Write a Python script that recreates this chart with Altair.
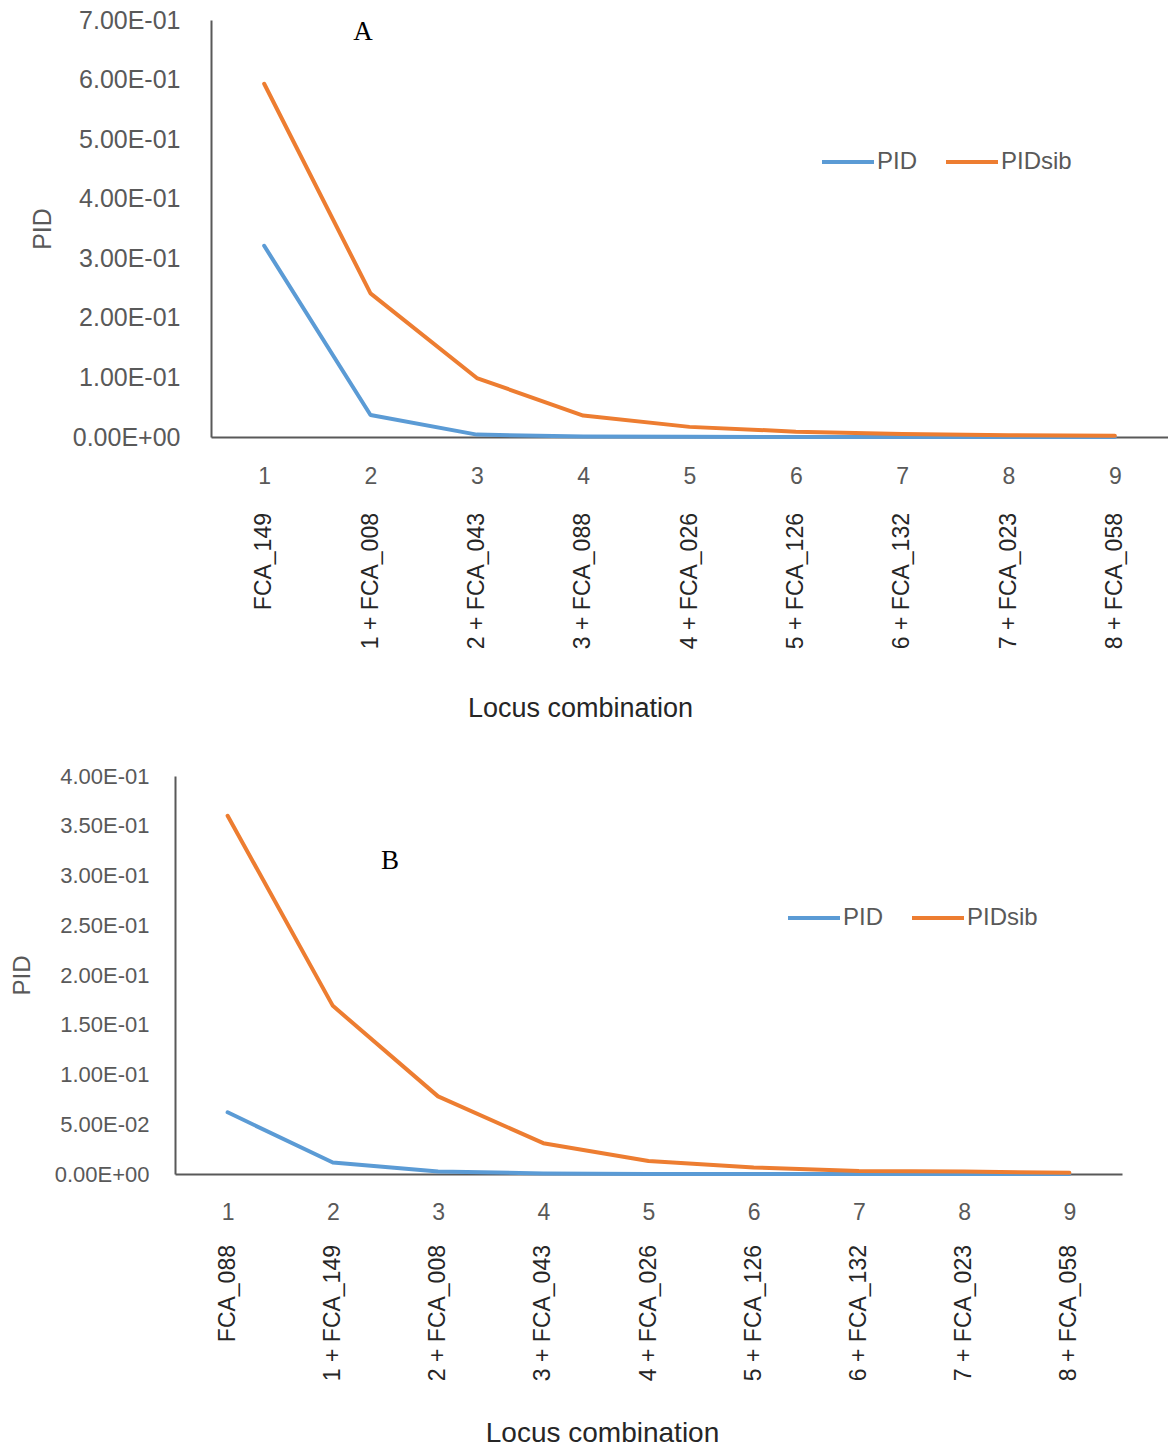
import altair as alt
import pandas as pd

# Number of loci combined at each step
steps = [1, 2, 3, 4, 5, 6, 7, 8, 9]

# Panel A: cumulative locus combinations and probabilities of identity
a_loci = ["FCA_149", "1 + FCA_008", "2 + FCA_043", "3 + FCA_088", "4 + FCA_026",
          "5 + FCA_126", "6 + FCA_132", "7 + FCA_023", "8 + FCA_058"]
a_pid = [0.321, 0.037, 0.004, 0.0008, 0.0003, 0.0001, 0.00005, 0.00002, 0.00001]
a_pidsib = [0.593, 0.241, 0.099, 0.036, 0.017, 0.009, 0.005, 0.003, 0.002]
a_ticks = [0.0, 0.1, 0.2, 0.3, 0.4, 0.5, 0.6, 0.7]

# Panel B
b_loci = ["FCA_088", "1 + FCA_149", "2 + FCA_008", "3 + FCA_043", "4 + FCA_026",
          "5 + FCA_126", "6 + FCA_132", "7 + FCA_023", "8 + FCA_058"]
b_pid = [0.062, 0.0115, 0.0025, 0.0005, 0.0001, 0.00003, 0.00001, 0.000003, 0.000001]
b_pidsib = [0.360, 0.169, 0.078, 0.031, 0.013, 0.0065, 0.003, 0.0025, 0.0012]
b_ticks = [0.0, 0.05, 0.10, 0.15, 0.20, 0.25, 0.30, 0.35, 0.40]

SERIES = ["PID", "PIDsib"]
COLORS = ["#5B9BD5", "#ED7D31"]
FONT = "Liberation Sans"
GREY = "#595959"
DARK = "#262626"
# d3 ".2e" gives "7.00e-1"; rewrite as "7.00E-01"
SCI = "replace(replace(format(datum.value, '.2e'), 'e-', 'E-0'), 'e+', 'E+0')"


def panel(letter, loci, pid, pidsib, ticks, y_max, width, height, x_range,
          y_offset, tick_font, tick_pad, y_title_x, y_title_size, x_label_pad,
          x_title_x, x_title_y, x_title_size, loci_top, legend_x, legend_y,
          letter_x, letter_y):
    lines = pd.DataFrame({
        "step": steps * 2,
        "series": ["PID"] * len(steps) + ["PIDsib"] * len(steps),
        "value": pid + pidsib,
    })
    names = pd.DataFrame({"step": steps, "locus": loci})

    x_enc = alt.X(
        "step:Q",
        scale=alt.Scale(domain=[0.5, 9.5], range=x_range, nice=False, zero=False),
        axis=alt.Axis(
            values=steps, format="d", title="Locus combination",
            titleX=x_title_x, titleY=x_title_y, titleBaseline="middle",
            titleAngle=0, titleFontSize=x_title_size, titleFont=FONT,
            titleColor=DARK, titleFontWeight="normal", labelFontSize=23,
            labelFont=FONT, labelColor=GREY, labelPadding=x_label_pad,
            ticks=False, grid=False, domainColor=GREY, domainWidth=2,
            labelFlush=False,
        ),
    )
    y_enc = alt.Y(
        "value:Q",
        scale=alt.Scale(domain=[0, y_max], nice=False),
        axis=alt.Axis(
            values=ticks, labelExpr=SCI, title="PID", titleX=y_title_x,
            titleY=height / 2, titleBaseline="middle", titleAngle=270,
            titleFontSize=y_title_size, titleFont=FONT, titleColor=GREY,
            titleFontWeight="normal", labelFontSize=tick_font, labelFont=FONT,
            labelColor=GREY, labelPadding=tick_pad, ticks=False, grid=False,
            domainColor=GREY, domainWidth=2, offset=y_offset,
        ),
    )

    curve = alt.Chart(lines).mark_line(
        strokeWidth=4, strokeJoin="round", strokeCap="round"
    ).encode(
        x=x_enc,
        y=y_enc,
        color=alt.Color(
            "series:N",
            scale=alt.Scale(domain=SERIES, range=COLORS),
            legend=alt.Legend(
                orient="none", legendX=legend_x, legendY=legend_y,
                direction="horizontal", title=None, symbolType="stroke",
                symbolSize=2704, symbolStrokeWidth=4, labelFontSize=24,
                labelFont=FONT, labelColor=GREY, labelOffset=1,
                columnPadding=20, padding=0,
            ),
        ),
    )

    locus_text = alt.Chart(names).mark_text(
        angle=270, align="right", baseline="middle", fontSize=23,
        font=FONT, color=DARK,
    ).encode(x=x_enc, y=alt.value(loci_top), text="locus:N")

    tag = alt.Chart(pd.DataFrame({"tag": [letter]})).mark_text(
        font="Liberation Serif", fontSize=27, color="black",
        align="center", baseline="middle",
    ).encode(x=alt.value(letter_x), y=alt.value(letter_y), text="tag:N")

    return alt.layer(curve, locus_text, tag).properties(width=width, height=height)


panel_a = panel(
    "A", a_loci, a_pid, a_pidsib, a_ticks, 0.7,
    width=993, height=417, x_range=[36, 993], y_offset=-36,
    tick_font=25, tick_pad=31, y_title_x=-169, y_title_size=25, x_label_pad=28,
    x_title_x=405, x_title_y=271, x_title_size=27, loci_top=493,
    legend_x=645, legend_y=114, letter_x=188, letter_y=12,
)
panel_b = panel(
    "B", b_loci, b_pid, b_pidsib, b_ticks, 0.4,
    width=947, height=398, x_range=[0, 947], y_offset=0,
    tick_font=22, tick_pad=26, y_title_x=-153, y_title_size=24, x_label_pad=27,
    x_title_x=427, x_title_y=259, x_title_size=28, loci_top=469,
    legend_x=611, legend_y=114, letter_x=215, letter_y=85,
)

chart = alt.vconcat(panel_a, panel_b, spacing=44).resolve_scale(
    color="independent", x="independent", y="independent"
).properties(
    padding={"left": 10, "top": 8, "right": 0, "bottom": 5},
    background="white",
).configure_view(stroke=None)

chart.save("out.html", embed_options={"renderer": "svg", "actions": False})
